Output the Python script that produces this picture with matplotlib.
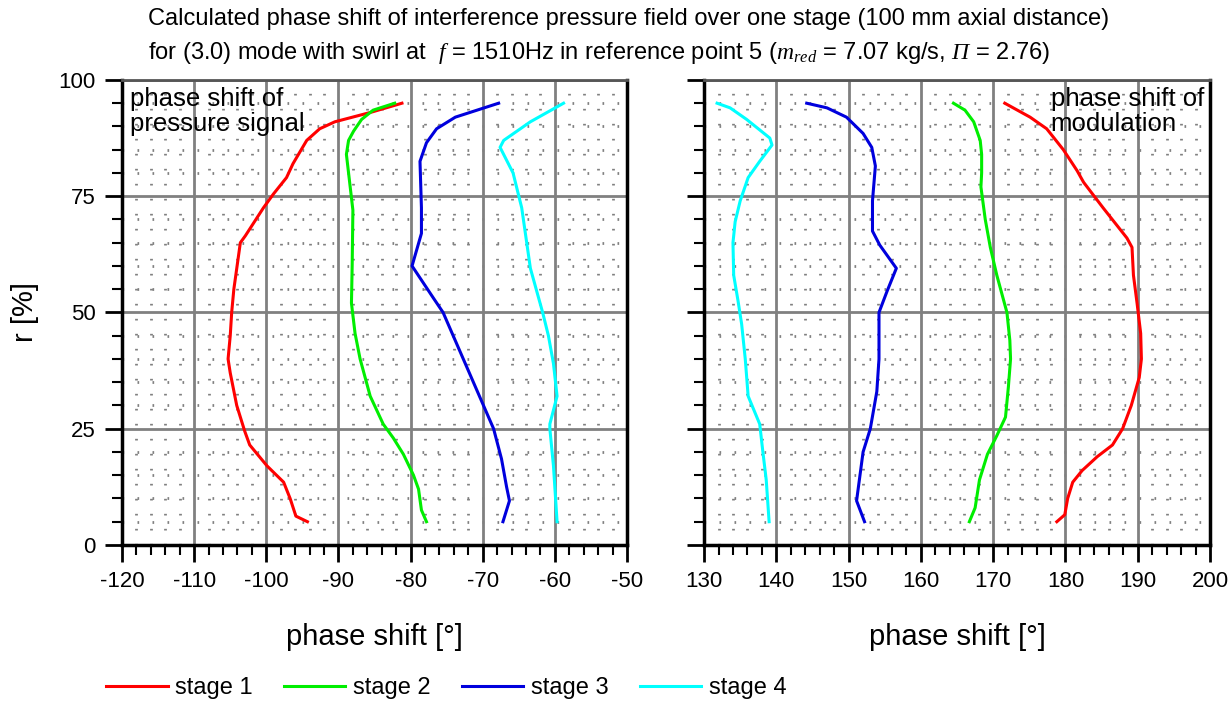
import matplotlib.pyplot as plt
from matplotlib.ticker import MultipleLocator

plt.rcParams['font.family'] = ['Liberation Sans', 'DejaVu Sans']
plt.rcParams['axes.unicode_minus'] = False
plt.rcParams['mathtext.fontset'] = 'custom'
plt.rcParams['mathtext.rm'] = 'Liberation Serif:italic'
plt.rcParams['mathtext.it'] = 'Liberation Serif:italic'

# left panel: phase shift of pressure signal  (r [%], phase [deg])
s1_sig_r = [5, 6.2, 10, 13.5, 17, 21.5, 24.5, 30, 37, 40, 45, 50, 55, 65, 66.5, 72.5, 75.5, 79, 82, 87, 89.5, 91, 93, 95]
s1_sig_x = [-94.3, -95.9, -96.7, -97.6, -99.9, -102.3, -103, -104.1, -105, -105.3, -105, -104.8, -104.5, -103.6, -102.9,
            -100.4, -99, -97.2, -96.3, -94.4, -92.6, -90.5, -85.6, -81.2]
s2_sig_r = [5, 7.5, 12, 15, 19.5, 23, 26, 32, 40, 45.5, 52, 60, 72, 80, 84, 87, 89, 91.5, 93.5, 95]
s2_sig_x = [-77.8, -78.5, -78.9, -79.6, -81, -82.4, -83.8, -85.6, -87, -87.7, -88.2, -88.1, -88.0, -88.6, -88.9,
            -88.6, -87.9, -86.8, -85.2, -82.2]
s3_sig_r = [5, 9.5, 12.5, 18.5, 25, 30, 35, 40, 45, 50, 53, 60, 67, 72.5, 82.5, 86.5, 89.5, 92, 93.5, 95]
s3_sig_x = [-67.2, -66.3, -66.7, -67.4, -68.5, -69.9, -71.3, -72.7, -74.1, -75.5, -76.8, -79.8, -78.5, -78.5,
            -78.7, -77.8, -76.4, -73.8, -70.8, -67.8]
s4_sig_r = [5, 17, 25, 26, 32, 39, 45, 50, 59.5, 72.5, 80, 85.5, 87, 91, 95]
s4_sig_x = [-59.7, -60.2, -60.7, -60.7, -59.7, -60.2, -60.9, -61.7, -63.4, -64.6, -65.8, -67.6, -67.1, -63.4, -58.8]

# right panel: phase shift of modulation
s1_mod_r = [5, 6.5, 10, 13.5, 16, 19, 21.5, 25, 30, 36, 40, 45.5, 52, 58, 64, 66, 72.5, 78, 80.5, 85, 89.5, 92, 95]
s1_mod_x = [178.8, 179.9, 180.3, 181.0, 182.3, 184.4, 186.5, 187.9, 189.1, 190.2, 190.5, 190.4, 189.9, 189.4,
            189.2, 188.5, 185.2, 182.5, 181.6, 179.7, 177.4, 175.1, 171.6]
s2_mod_r = [5, 8, 14, 19.5, 23.5, 27.5, 34, 40, 44, 50, 58, 64, 70, 77, 80, 84, 87, 91, 93.5, 95]
s2_mod_x = [166.7, 167.5, 168.1, 169.2, 170.5, 171.7, 172.1, 172.4, 172.3, 171.9, 170.5, 169.6, 168.9, 168.3,
            168.4, 168.4, 168.2, 167.3, 166.1, 164.5]
s3_mod_r = [5, 9.5, 20, 25, 33, 40, 50, 54.5, 59.5, 64.5, 67.5, 74, 81.5, 85.5, 88.5, 92, 94, 95]
s3_mod_x = [152.2, 151.1, 152.0, 153.0, 153.9, 154.2, 154.2, 155.3, 156.6, 154.3, 153.3, 153.3, 153.7, 153.2,
            152.0, 149.7, 147.0, 144.2]
s4_mod_r = [5, 14, 20.5, 26, 32, 40, 47.5, 52.5, 58, 65, 69.5, 74, 79, 82.5, 86, 87.5, 91.5, 94, 95]
s4_mod_x = [139.0, 138.6, 138.1, 137.7, 136.1, 135.7, 135.2, 134.7, 134.1, 134.0, 134.3, 135.0, 136.1, 137.7,
            139.4, 139.1, 135.9, 133.6, 131.8]

stages = ['stage 1', 'stage 2', 'stage 3', 'stage 4']
colors = ['#ff0000', '#00ee00', '#0000dd', '#00ffff']


def style_axes(ax, xlim, xmaj):
    ax.set_xlim(xlim)
    ax.set_ylim(0, 100)
    ax.xaxis.set_major_locator(MultipleLocator(xmaj))
    ax.xaxis.set_minor_locator(MultipleLocator(2))
    ax.yaxis.set_major_locator(MultipleLocator(25))
    ax.yaxis.set_minor_locator(MultipleLocator(5))
    ax.grid(True, which='major', color='#808080', lw=2)
    ax.grid(True, which='minor', color='#808080', lw=2, linestyle=(0, (0.6, 4.8)))
    ax.set_axisbelow(True)
    ax.tick_params(which='major', direction='out', length=12, width=2, labelsize=16, pad=7)
    ax.tick_params(which='minor', direction='out', length=7, width=1.5)
    for side in ['left', 'bottom', 'right']:
        ax.spines[side].set_linewidth(2.5)
    ax.spines['top'].set_linewidth(2)
    ax.spines['top'].set_color('#555555')
    ax.set_xlabel('phase shift [°]', fontsize=21, labelpad=22)


fig = plt.figure(figsize=(12.3, 7.05), dpi=100)
ax1 = fig.add_axes([0.0992, 0.227, 0.4106, 0.6596])
ax2 = fig.add_axes([0.5724, 0.227, 0.4114, 0.6596])

sig = [(s1_sig_x, s1_sig_r), (s2_sig_x, s2_sig_r), (s3_sig_x, s3_sig_r), (s4_sig_x, s4_sig_r)]
mod = [(s1_mod_x, s1_mod_r), (s2_mod_x, s2_mod_r), (s3_mod_x, s3_mod_r), (s4_mod_x, s4_mod_r)]
for (x, r), c, lab in zip(sig, colors, stages):
    ax1.plot(x, r, color=c, lw=2.2, label=lab)
for (x, r), c in zip(mod, colors):
    ax2.plot(x, r, color=c, lw=2.2)

style_axes(ax1, (-120, -50), 10)
style_axes(ax2, (130, 200), 10)
ax2.set_yticklabels([])
ax1.set_ylabel('r [%]', fontsize=21, labelpad=14)

ax1.text(0.015, 0.985, 'phase shift of\npressure signal', transform=ax1.transAxes,
         fontsize=18.5, va='top', ha='left', linespacing=1.05)
ax2.text(0.685, 0.985, 'phase shift of\nmodulation', transform=ax2.transAxes,
         fontsize=18.5, va='top', ha='left', linespacing=1.05)

fig.text(0.12, 0.988, 'Calculated phase shift of interference pressure field over one stage (100 mm axial distance)\n'
         'for (3.0) mode with swirl at  $f$ = 1510Hz in reference point 5 ($m_{red}$ = 7.07 kg/s, $\\Pi$ = 2.76)',
         fontsize=17, va='top', ha='left', linespacing=1.5)

fig.legend(loc='lower left', bbox_to_anchor=(0.069, -0.022), ncol=4, frameon=False, fontsize=17,
           handlelength=2.6, columnspacing=1.35, handletextpad=0.3)

plt.savefig('out.png', dpi=100)
